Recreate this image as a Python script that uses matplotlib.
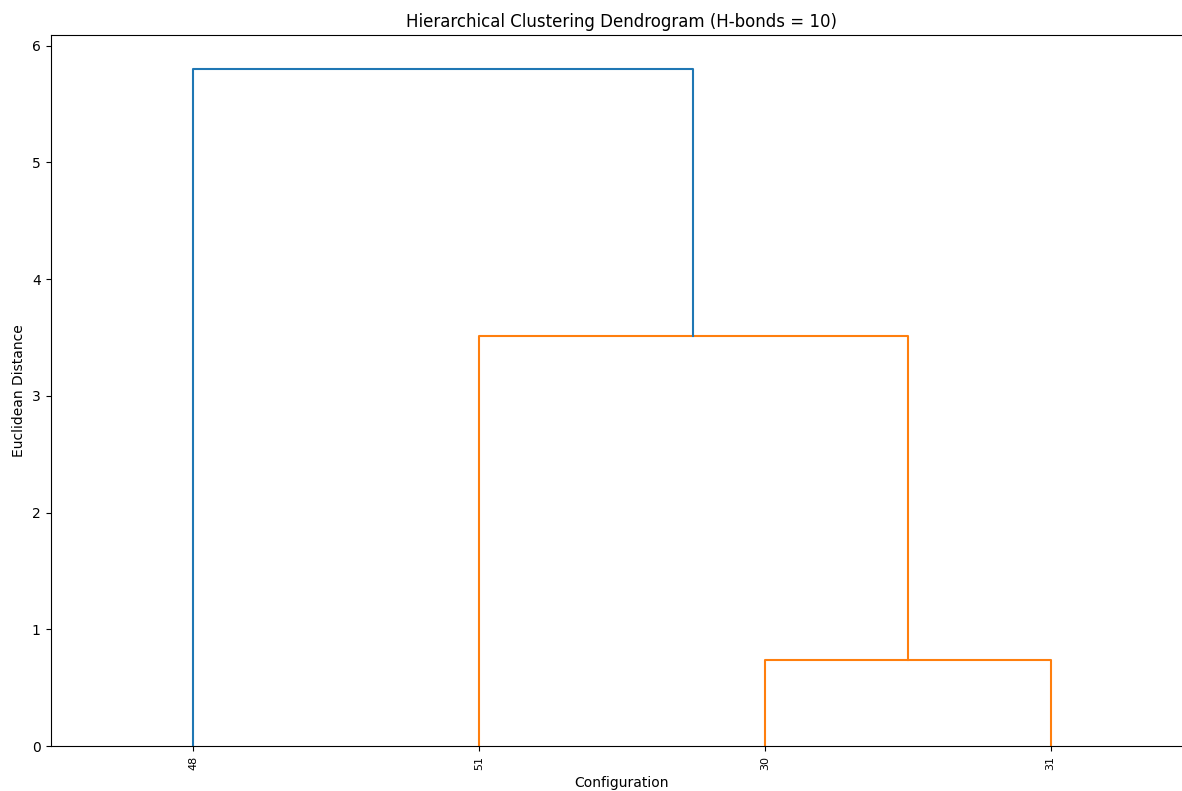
import matplotlib
matplotlib.use("Agg")
import matplotlib.pyplot as plt
import numpy as np

# leaf order along the x axis and the merge table (left, right, height)
leaf_labels = ['48', '51', '30', '31']
merge_left = [2, 1, 0]
merge_right = [3, 4, 5]
merge_height = [0.74, 3.51, 5.80]
merge_color = ['C1', 'C1', 'C0']


def draw_dendrogram(ax):
    # node positions: leaves first, then each merge in order
    pos_x = [5.0 + 10.0 * i for i in range(len(leaf_labels))]
    pos_y = [0.0] * len(leaf_labels)
    for l, r, h, c in zip(merge_left, merge_right, merge_height, merge_color):
        xs = [pos_x[l], pos_x[l], pos_x[r], pos_x[r]]
        ys = [pos_y[l], h, h, pos_y[r]]
        ax.plot(xs, ys, color=c, linewidth=1.5)
        pos_x.append((pos_x[l] + pos_x[r]) / 2)
        pos_y.append(h)

    ticks = [5.0 + 10.0 * i for i in range(len(leaf_labels))]
    ax.set_xticks(ticks)
    ax.set_xticklabels(leaf_labels, rotation=90, fontsize=8)
    ax.set_xlim(0, 10 * len(leaf_labels))
    ax.set_ylim(0, max(merge_height) * 1.05)


fig = plt.figure(figsize=(11.82, 7.91), dpi=100)
ax = fig.add_axes([50.5 / 1182, 45 / 791, 1143 / 1182, 711 / 791])
draw_dendrogram(ax)
ax.set_title("Hierarchical Clustering Dendrogram (H-bonds = 10)", fontsize=12)
ax.set_xlabel("Configuration")
ax.set_ylabel("Euclidean Distance")
fig.savefig("out.png", dpi=100)
